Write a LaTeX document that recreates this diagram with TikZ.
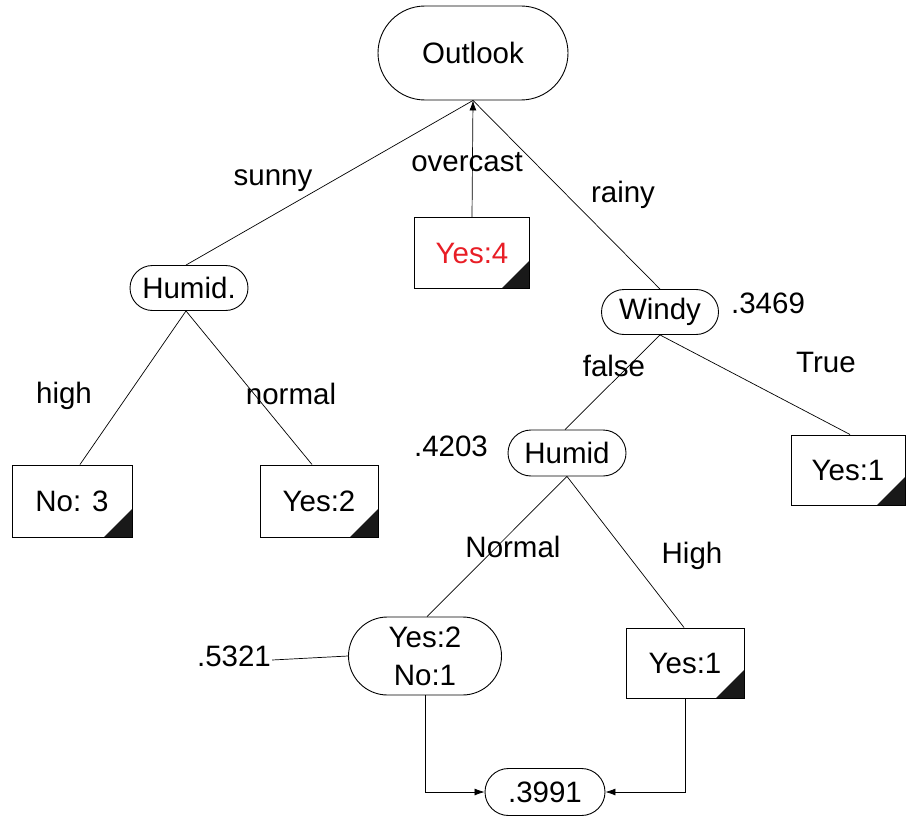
\documentclass[tikz,border=0pt]{standalone}
\usepackage{fontspec}
\setmainfont{Liberation Sans}
\usetikzlibrary{shapes.misc,arrows.meta,calc}
\definecolor{leafred}{RGB}{232,30,38}
\begin{document}
\begin{tikzpicture}[x=1pt,y=-1pt,
  every node/.style={font=\fontsize{29.5}{38}\selectfont},
  decision/.style={draw,line width=0.9pt,rounded rectangle,inner sep=0pt,align=center},
  leaf/.style={draw,line width=1pt,rectangle,inner sep=0pt,
    path picture={\fill[black!90]
      ($(path picture bounding box.south east)+(-28pt,0pt)$) -- ++(28pt,0pt) -- ++(0pt,28pt) -- cycle;}},
  branch/.style={line width=0.7pt},
  tip/.style={line width=0.7pt,-{Latex[length=10pt,width=7pt]}},
  lbl/.style={inner sep=0pt}]
\useasboundingbox (0,0) rectangle (906,816);

% decision nodes
\node[decision,minimum width=190pt,minimum height=94pt] (outlook) at (473,53) {Outlook};
\node[decision,minimum width=118pt,minimum height=45pt] (humidL) at (189,288) {Humid.};
\node[decision,minimum width=117pt,minimum height=45pt] (windy) at (660,312) {Windy};
\node[decision,minimum width=118pt,minimum height=46pt] (humidR) at (567,453) {Humid};
\node[decision,minimum width=153pt,minimum height=78pt] (mixed) at (425,656) {Yes:2\\No:1};
\node[decision,minimum width=120pt,minimum height=47pt] (final) at (545,792) {.3991};

% leaves
\node[leaf,minimum width=115pt,minimum height=71pt,text=leafred] (yes4) at (472,253) {Yes:4};
\node[leaf,minimum width=120pt,minimum height=72pt] (no3) at (72,501) {No: 3};
\node[leaf,minimum width=118pt,minimum height=72pt] (yes2) at (319,501) {Yes:2};
\node[leaf,minimum width=114pt,minimum height=70pt] (yes1a) at (848,470) {Yes:1};
\node[leaf,minimum width=118pt,minimum height=70pt] (yes1b) at (685,663) {Yes:1};

% branch labels and scores
\node[lbl] (lsunny) at (273,181) {sunny};
\node[lbl] (lover) at (467,162) {overcast};
\node[lbl] (lrainy) at (623,195) {rainy};
\node[lbl] (lhigh) at (64,396) {high};
\node[lbl] (lnormal) at (291,394) {normal};
\node[lbl] (lfalse) at (614,366) {false};
\node[lbl] (ltrue) at (826,362) {True};
\node[lbl] (lNormal) at (513,547) {Normal};
\node[lbl] (lHigh) at (692,556) {High};
\node[lbl] (s3469) at (768,303) {.3469};
\node[lbl] (s4203) at (451,446) {.4203};
\node[lbl] (s5321) at (234,656) {.5321};

% branches
\draw[branch] (outlook.south) -- ([xshift=-3pt]humidL.north);
\draw[tip] (yes4.north) -- (outlook.south);
\draw[branch] (outlook.south) -- (windy.north);
\draw[branch] ([xshift=-3pt]humidL.south) -- ([xshift=8pt]no3.north);
\draw[branch] ([xshift=-3pt]humidL.south) -- ([xshift=-7pt]yes2.north);
\draw[branch] (windy.south) -- ([xshift=-2pt]humidR.north);
\draw[branch] (windy.south) -- ([xshift=2pt]yes1a.north);
\draw[branch] (humidR.south) -- ([xshift=2pt]mixed.north);
\draw[branch] (humidR.south) -- ([xshift=-1pt]yes1b.north);
\draw[branch] ([xshift=1pt,yshift=-4pt]s5321.east) -- (mixed.west);

% merge into the final score
\draw[tip] (mixed.south) |- (final.west);
\draw[tip] (yes1b.south) |- (final.east);
\end{tikzpicture}
\end{document}
